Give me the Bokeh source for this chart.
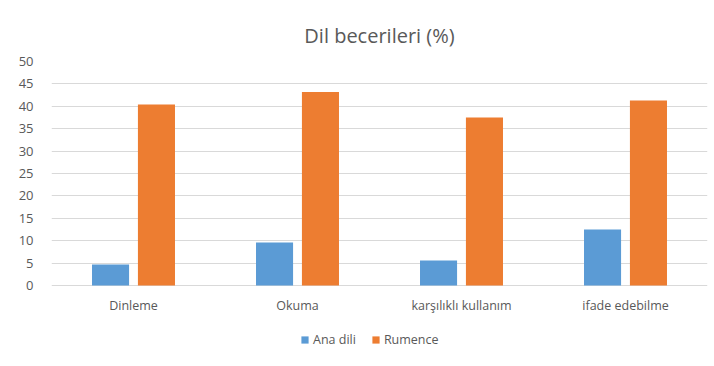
from bokeh.plotting import figure
from bokeh.models import ColumnDataSource, Range1d, FixedTicker, Legend, LegendItem
from bokeh.transform import dodge
from bokeh.core.properties import value
from bokeh.embed import file_html
from bokeh.resources import INLINE

categories = ["Dinleme", "Okuma", "karşılıklı kullanım", "ifade edebilme"]
ana_dili = [4.7, 9.6, 5.6, 12.5]
rumence = [40.4, 43.2, 37.5, 41.3]
series_names = ["Ana dili", "Rumence"]
y_ticks = [0, 5, 10, 15, 20, 25, 30, 35, 40, 45, 50]
label_base = [0, 0, 0, 0]

FONT = "Open Sans"
TXT = "#595959"

src = ColumnDataSource(dict(cat=categories, a=ana_dili, r=rumence, base=label_base))

# frame spans 61..364 px; 0 sits at 285 px, 50 at 61 px -> extra room below 0
p = figure(x_range=categories, y_range=Range1d(-17.63, 50), width=712, height=364,
           output_backend="svg", toolbar_location=None, x_axis_location=None,
           min_border_left=51, min_border_right=5, min_border_top=61, min_border_bottom=0)

r1 = p.vbar(x=dodge("cat", -0.14, range=p.x_range), top="a", width=0.226, source=src,
            fill_color="#5B9BD5", line_color=None)
r2 = p.vbar(x=dodge("cat", 0.14, range=p.x_range), top="r", width=0.226, source=src,
            fill_color="#ED7D31", line_color=None)

# category labels under the baseline
p.text(x="cat", y="base", text="cat", source=src, y_offset=20,
       text_align="center", text_baseline="middle", text_font=value(FONT),
       text_font_size="12.5px", text_color=TXT)

p.title.text = "Dil becerileri (%)"
p.title.align = "center"
p.title.text_font = FONT
p.title.text_font_size = "20px"
p.title.text_font_style = "normal"
p.title.text_color = TXT
p.title.standoff = 26

p.outline_line_color = None
p.xgrid.grid_line_color = None
p.ygrid.grid_line_color = "#D9D9D9"
p.ygrid.grid_line_width = 1
p.yaxis.ticker = FixedTicker(ticks=y_ticks)
p.yaxis.axis_line_color = None
p.yaxis.major_tick_line_color = None
p.yaxis.minor_tick_line_color = None
p.yaxis.major_label_text_font = FONT
p.yaxis.major_label_text_font_size = "13px"
p.yaxis.major_label_text_color = TXT
p.yaxis.major_label_standoff = 12

legend = Legend(items=[LegendItem(label=series_names[0], renderers=[r1]),
                       LegendItem(label=series_names[1], renderers=[r2])],
                orientation="horizontal", location=(249, 16))
legend.border_line_color = None
legend.background_fill_alpha = 0
legend.label_text_font = FONT
legend.label_text_font_size = "12.5px"
legend.label_text_color = TXT
legend.glyph_width = 9
legend.glyph_height = 9
legend.label_standoff = 4
legend.spacing = 15
legend.margin = 0
legend.padding = 2
p.add_layout(legend)

open("out.html", "w").write(file_html(p, INLINE))
